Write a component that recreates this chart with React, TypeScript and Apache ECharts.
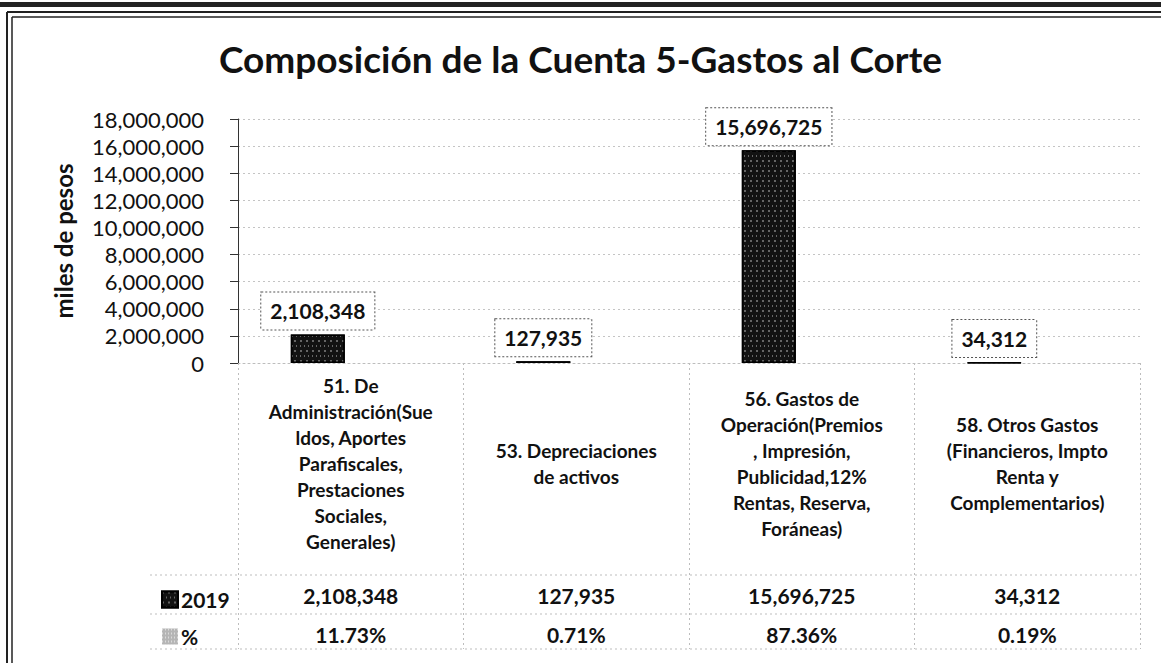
import React, { useEffect, useRef } from "react";
import * as echarts from "echarts";

const categories = [
  "51. De\nAdministración(Sue\nldos, Aportes\nParafiscales,\nPrestaciones\nSociales,\nGenerales)",
  "53. Depreciaciones\nde activos",
  "56. Gastos de\nOperación(Premios\n, Impresión,\nPublicidad,12%\nRentas, Reserva,\nForáneas)",
  "58. Otros Gastos\n(Financieros, Impto\nRenta y\nComplementarios)",
];
const values2019 = [2108348, 127935, 15696725, 34312];
const percents = [11.73, 0.71, 87.36, 0.19];
const seriesNames = ["2019", "%"];
const yMin = 0;
const yMax = 18000000;
const yStep = 2000000;

const FONT = "Lato, 'Noto Sans', sans-serif";
const fmtNum = (v: number) => v.toLocaleString("en-US");
const fmtPct = (v: number) => v.toFixed(2) + "%";

export default function App() {
  const ref = useRef<HTMLDivElement>(null);
  useEffect(() => {
    document.body.style.margin = "0";
    const chart = echarts.init(ref.current!, null, { renderer: "svg" });
    const lineStyle = { stroke: "#bdbdbd", lineWidth: 1, lineDash: [2, 3] };
    chart.setOption({
      animation: false,
      backgroundColor: "#ffffff",
      textStyle: { fontFamily: FONT },
      title: {
        text: "Composición de la Cuenta 5-Gastos al Corte",
        left: "center",
        top: 35,
        textStyle: { fontFamily: FONT, fontSize: 37, fontWeight: "bold", color: "#111" },
      },
      legend: {
        data: seriesNames,
        orient: "vertical",
        left: 156,
        top: 584,
        itemWidth: 16,
        itemHeight: 16,
        itemGap: 16,
        icon: "rect",
        textStyle: { fontFamily: FONT, fontSize: 21, fontWeight: "bold", color: "#111", padding: [0, 0, 0, -2] },
        selectedMode: false,
      },
      grid: { left: 238, right: 21, top: 119, bottom: 300, containLabel: false },
      xAxis: [
        {
          type: "category",
          data: categories,
          position: "bottom",
          axisLine: { show: true, lineStyle: { color: "#bdbdbd", type: [2, 3] } },
          axisTick: { show: true, inside: false, length: 286, lineStyle: { color: "#bdbdbd", type: [2, 3] } },
          axisLabel: {
            interval: 0,
            margin: 100,
            verticalAlign: "middle",
            fontFamily: FONT,
            fontSize: 19,
            fontWeight: "bold",
            lineHeight: 26,
            color: "#111",
          },
        },
        {
          type: "category",
          data: categories,
          position: "bottom",
          axisLine: { show: false },
          axisTick: { show: false },
          axisLabel: {
            interval: 0,
            margin: 232,
            verticalAlign: "middle",
            fontFamily: FONT,
            fontSize: 21,
            fontWeight: "bold",
            color: "#111",
            formatter: (_v: string, i: number) => fmtNum(values2019[i]),
          },
        },
        {
          type: "category",
          data: categories,
          position: "bottom",
          axisLine: { show: false },
          axisTick: { show: false },
          axisLabel: {
            interval: 0,
            margin: 271,
            verticalAlign: "middle",
            fontFamily: FONT,
            fontSize: 21,
            fontWeight: "bold",
            color: "#111",
            formatter: (_v: string, i: number) => fmtPct(percents[i]),
          },
        },
      ],
      yAxis: {
        type: "value",
        min: yMin,
        max: yMax,
        interval: yStep,
        name: "miles de pesos",
        nameLocation: "middle",
        nameGap: 163,
        nameTextStyle: { fontFamily: FONT, fontSize: 24, fontWeight: "bold", color: "#111" },
        axisLine: { show: true, lineStyle: { color: "#333", width: 1 } },
        axisTick: { show: true, length: 8, lineStyle: { color: "#333" } },
        axisLabel: {
          margin: 34,
          fontFamily: FONT,
          fontSize: 22,
          color: "#111",
          formatter: (v: number) => fmtNum(v),
        },
        splitLine: { show: true, lineStyle: { color: "#c4c4c4", type: [2, 3] } },
      },
      series: [
        {
          name: seriesNames[0],
          type: "bar",
          data: values2019,
          barWidth: 54,
          barGap: "22%",
          itemStyle: {
            color: "#121212",
            borderColor: "#000",
            borderWidth: 1.5,
            decal: {
              symbol: "rect",
              symbolSize: 1,
              color: "rgba(255,255,255,0.35)",
              dashArrayX: [[1, 3], [2, 4]],
              dashArrayY: [2, 3],
              rotation: 0,
            },
          },
          label: {
            show: true,
            position: "top",
            distance: 5,
            formatter: (p: any) => fmtNum(p.value),
            fontFamily: FONT,
            fontSize: 21,
            fontWeight: "bold",
            color: "#111",
            backgroundColor: "#fff",
            borderColor: "#555",
            borderWidth: 1,
            borderType: "dotted",
            padding: [8, 9, 8, 9],
          },
        },
        {
          name: seriesNames[1],
          type: "bar",
          data: percents,
          barWidth: 54,
          itemStyle: {
            color: "#b5b5b5",
            decal: {
              symbol: "rect",
              symbolSize: 1,
              color: "rgba(255,255,255,0.5)",
              dashArrayX: [[1, 2]],
              dashArrayY: [2, 2],
              rotation: 0,
            },
          },
          label: { show: false },
        },
      ],
      graphic: [
        { type: "rect", shape: { x: 0, y: 2, width: 1161, height: 5 }, style: { fill: "#222" }, silent: true },
        { type: "line", shape: { x1: 7, y1: 12, x2: 1161, y2: 12 }, style: { stroke: "#222", lineWidth: 2 }, silent: true },
        { type: "line", shape: { x1: 12, y1: 17, x2: 1161, y2: 17 }, style: { stroke: "#222", lineWidth: 1.5 }, silent: true },
        { type: "line", shape: { x1: 7, y1: 12, x2: 7, y2: 663 }, style: { stroke: "#222", lineWidth: 2 }, silent: true },
        { type: "line", shape: { x1: 12, y1: 17, x2: 12, y2: 663 }, style: { stroke: "#222", lineWidth: 1.5 }, silent: true },
        { type: "line", shape: { x1: 150, y1: 575, x2: 1140, y2: 575 }, style: lineStyle, silent: true },
        { type: "line", shape: { x1: 150, y1: 614, x2: 1140, y2: 614 }, style: lineStyle, silent: true },
        { type: "line", shape: { x1: 150, y1: 649, x2: 1140, y2: 649 }, style: lineStyle, silent: true },
      ],
    });
    return () => chart.dispose();
  }, []);
  return <div ref={ref} style={{ width: 1161, height: 663 }} />;
}
